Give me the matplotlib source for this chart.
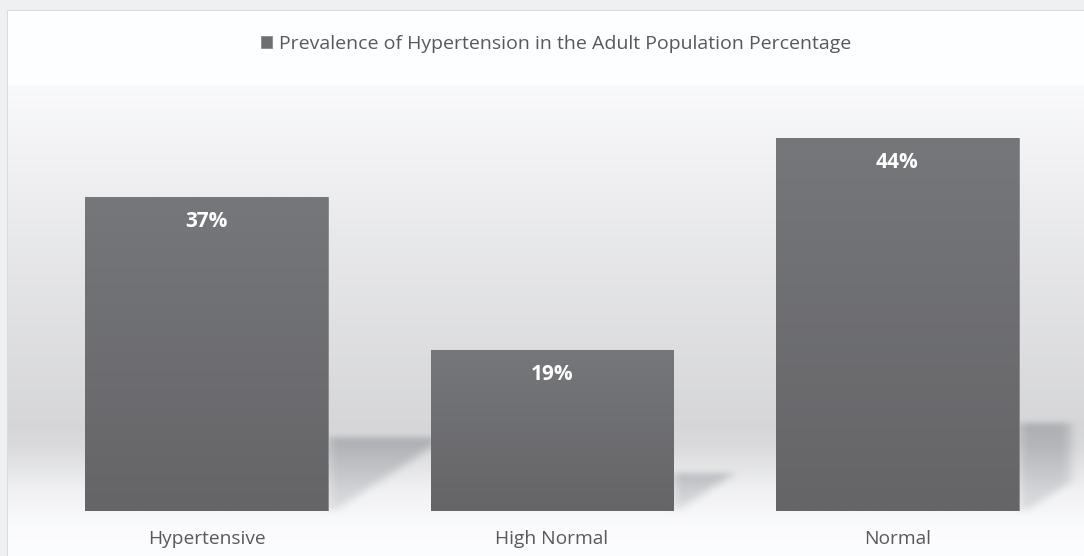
import numpy as np
import matplotlib
matplotlib.use("Agg")
import matplotlib.pyplot as plt
from matplotlib.path import Path

plt.rcParams["font.family"] = ["Open Sans", "DejaVu Sans"]

# ---- data ----
categories = ["Hypertensive", "High Normal", "Normal"]
percentages = [37, 19, 44]
series_name = "Prevalence of Hypertension in the Adult Population Percentage"

W, H = 1084, 556
DPI = 100
fig = plt.figure(figsize=(W / DPI, H / DPI), dpi=DPI)

# plot area (pixels, origin top-left): x 33.75..1070.25, y 87..511
px_left, px_right, px_top, px_bottom = 33.75, 1070.25, 87.0, 511.0
ax = fig.add_axes([px_left / W, (H - px_bottom) / H,
                   (px_right - px_left) / W, (px_bottom - px_top) / H])
ax.set_xlim(-0.5, 2.5)
ax.set_ylim(0, 50)
ax.patch.set_alpha(0)
for s in ax.spines.values():
    s.set_visible(False)
ax.set_yticks([])

x = np.arange(len(categories))
bars = ax.bar(x, percentages, width=0.703, color="#6e6f72",
              edgecolor="#88898c", linewidth=0.6, zorder=3, label=series_name)

# vertical shading inside each bar
grad = np.linspace(0, 1, 256).reshape(-1, 1)
top_c = np.array([0x76, 0x77, 0x7b]) / 255
bot_c = np.array([0x65, 0x65, 0x68]) / 255
grad_img = (top_c * (1 - grad)[..., None] + bot_c * grad[..., None]).reshape(256, 1, 3)
for b in bars:
    x0, w_, h_ = b.get_x(), b.get_width(), b.get_height()
    im = ax.imshow(grad_img, extent=(x0, x0 + w_, 0, h_), origin="upper",
                   aspect="auto", zorder=3.2, interpolation="bilinear")
    im.set_clip_path(b)
ax.set_xlim(-0.5, 2.5)
ax.set_ylim(0, 50)

# value labels
for b, v in zip(bars, percentages):
    ax.annotate(f"{v}%", (b.get_x() + b.get_width() / 2, v),
                xytext=(0, -17.5), textcoords="offset points",
                ha="center", va="center", color="white", fontsize=15,
                fontweight="bold", zorder=5)

ax.set_xticks(x, categories)
ax.tick_params(axis="x", length=0, pad=13.5, labelsize=13.8, labelcolor="#595959")

# legend
leg = ax.legend(loc="center", bbox_to_anchor=(0.513, (H - 44) / H),
                bbox_transform=fig.transFigure, frameon=False,
                handlelength=0.6, handleheight=0.6, handletextpad=0.35,
                fontsize=14, labelcolor="#595959")

# ---- background canvas with gradient and bar shadows ----
canvas = np.empty((H, W, 3))
canvas[:] = np.array([0xef, 0xf0, 0xf2]) / 255
canvas[10:, 7:] = np.array([0xda, 0xdb, 0xdd]) / 255
ys = np.arange(H)
prof_y = [0, 84, 86, 150, 250, 350, 425, 445, 470, 490, 510, 525, 556]
prof_v = [255, 255, 250, 243, 232, 222, 215, 218, 231, 242, 247, 252, 253]
vals = np.interp(ys, prof_y, prof_v) / 255
card = np.stack([vals - 0.004, vals - 0.002, vals + 0.004], axis=1).clip(0, 1)
canvas[11:, 8:] = card[11:, None, :]


def blur1d(a, r, axis):
    k = 2 * r + 1
    pad = [(0, 0)] * a.ndim
    pad[axis] = (r + 1, r)
    p = np.pad(a, pad, mode="edge")
    c = np.cumsum(p, axis=axis)
    n = a.shape[axis]
    return (np.take(c, np.arange(k, k + n), axis=axis)
            - np.take(c, np.arange(0, n), axis=axis)) / k


fig.canvas.draw()
to_px = ax.transData
gy, gx = np.mgrid[0:H, 0:W]
pts = np.column_stack([gx.ravel() + 0.5, gy.ravel() + 0.5])
shadow = np.zeros((H, W))
for b in bars:
    (xl, yb), (xr, yt) = to_px.transform([(b.get_x(), 0),
                                         (b.get_x() + b.get_width(), b.get_height())])
    base = H - yb
    hpx = abs(yt - yb)
    sh = 0.236 * hpx
    sw = 0.38 * hpx
    poly = Path([(xr, base - sh), (xr + sw, base - sh),
                 (xr + 0.05 * sw, base), (xr, base)])
    m = poly.contains_points(pts).reshape(H, W).astype(float)
    t = ((gy - (base - sh)) / sh).clip(0, 1)
    shadow = np.maximum(shadow, m * (1 - 0.45 * t))
shadow[:, int(round(px_right)):] = 0
# soft edge: light vertical blur, stronger horizontal blur
for _ in range(2):
    shadow = blur1d(blur1d(shadow, 3, 0), 6, 1)
strength = np.array([0.19, 0.185, 0.17])
canvas = canvas * (1 - shadow[..., None] * strength)

bg = fig.add_axes([0, 0, 1, 1], zorder=-5)
bg.imshow(canvas, extent=(0, W, H, 0), aspect="auto", interpolation="nearest")
bg.set_xlim(0, W)
bg.set_ylim(H, 0)
bg.axis("off")

fig.savefig("out.png", dpi=DPI)
